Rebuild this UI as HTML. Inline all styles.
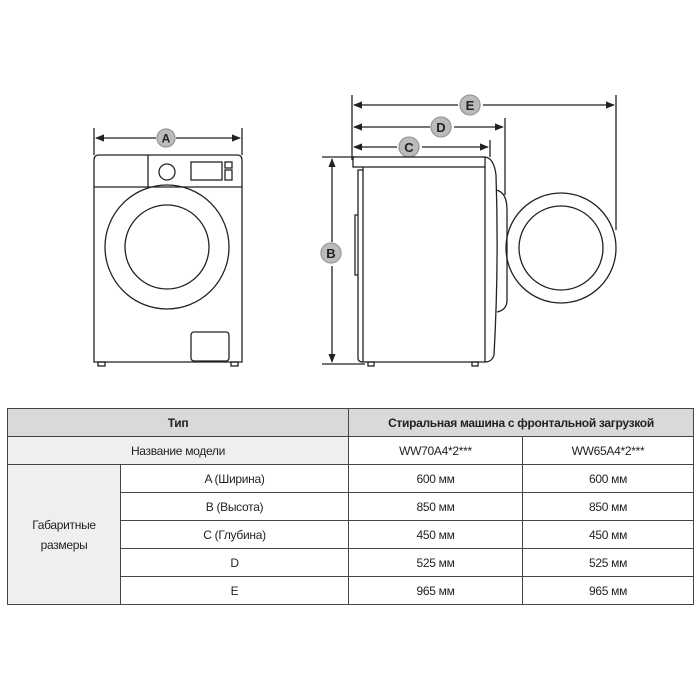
<!DOCTYPE html>
<html><head><meta charset="utf-8"><style>
body{margin:0;background:#fff;width:700px;height:700px;overflow:hidden;font-family:"Liberation Sans","DejaVu Sans",sans-serif}
svg{position:absolute;left:0;top:0}
table{position:absolute;left:7px;top:408px;border-collapse:collapse;font-size:12px;color:#222}
td{border:1px solid #444;height:27px;text-align:center;padding:0;font-family:"Liberation Sans",sans-serif;letter-spacing:-0.3px}
.g{background:#d9d9d9;font-weight:bold}
.l{background:#efefef}
</style></head><body>
<svg width="700" height="400" viewBox="0 0 700 400" fill="none" stroke="#222" stroke-width="1.3">
<defs><marker id="a" viewBox="0 0 10 10" refX="9" refY="5" markerWidth="7" markerHeight="7" orient="auto-start-reverse"><path d="M0,1L10,5L0,9z" fill="#222" stroke="none"/></marker></defs>
<line x1="94" y1="128" x2="94" y2="155"/><line x1="242" y1="128" x2="242" y2="155"/>
<line x1="96" y1="138" x2="156" y2="138" marker-start="url(#a)"/><line x1="176" y1="138" x2="240" y2="138" marker-end="url(#a)"/>
<circle cx="166" cy="138" r="9" fill="#bbb" stroke="#999"/><text x="166" y="142.5" font-size="12" font-weight="bold" text-anchor="middle" fill="#222" stroke="none">A</text>
<path d="M94,362V160Q94,155 99,155H237Q242,155 242,160V362Z"/>
<line x1="94" y1="187" x2="242" y2="187"/><line x1="148" y1="155" x2="148" y2="187"/>
<circle cx="167" cy="172" r="8"/><rect x="191" y="162" width="31" height="18"/>
<rect x="225" y="162" width="7" height="6"/><rect x="225" y="170" width="7" height="10"/>
<circle cx="167" cy="247" r="62"/><circle cx="167" cy="247" r="42"/>
<rect x="191" y="332" width="38" height="29" rx="3"/>
<rect x="98" y="362" width="7" height="4"/><rect x="231" y="362" width="7" height="4"/>
<line x1="352" y1="95" x2="352" y2="160"/>
<line x1="616" y1="95" x2="616" y2="230"/>
<line x1="505" y1="118" x2="505" y2="195"/>
<line x1="490" y1="140" x2="490" y2="157"/>
<line x1="354" y1="105" x2="458" y2="105" marker-start="url(#a)"/><line x1="483" y1="105" x2="614" y2="105" marker-end="url(#a)"/>
<circle cx="470" cy="105" r="10" fill="#bbb" stroke="#999"/><text x="470" y="110" font-size="13" font-weight="bold" text-anchor="middle" fill="#222" stroke="none">E</text>
<line x1="354" y1="127" x2="430" y2="127" marker-start="url(#a)"/><line x1="454" y1="127" x2="503" y2="127" marker-end="url(#a)"/>
<circle cx="441" cy="127" r="10" fill="#bbb" stroke="#999"/><text x="441" y="132" font-size="13" font-weight="bold" text-anchor="middle" fill="#222" stroke="none">D</text>
<line x1="354" y1="147" x2="397" y2="147" marker-start="url(#a)"/><line x1="422" y1="147" x2="488" y2="147" marker-end="url(#a)"/>
<circle cx="409" cy="147" r="10" fill="#bbb" stroke="#999"/><text x="409" y="152" font-size="13" font-weight="bold" text-anchor="middle" fill="#222" stroke="none">C</text>
<line x1="322" y1="157" x2="355" y2="157"/><line x1="322" y1="364" x2="365" y2="364"/>
<line x1="332" y1="159" x2="332" y2="242" marker-start="url(#a)"/><line x1="332" y1="266" x2="332" y2="362" marker-end="url(#a)"/>
<circle cx="331" cy="253" r="10" fill="#bbb" stroke="#999"/><text x="331" y="258" font-size="13" font-weight="bold" text-anchor="middle" fill="#222" stroke="none">B</text>
<rect x="353" y="157" width="132" height="10"/>
<path d="M363,167V362H485V167"/>
<path d="M485,157Q494,158 496,175Q499,265 494,355Q492,362 485,362"/>
<path d="M496,190Q507,192 507,210V300Q507,310 497,312"/>
<path d="M363,170H358V358Q358,362 363,362"/>
<path d="M358,215H355V275H358"/>
<circle cx="561" cy="248" r="55"/><circle cx="561" cy="248" r="42"/>
<rect x="368" y="362" width="6" height="4"/><rect x="472" y="362" width="6" height="4"/>
</svg>
<table>
<tr><td class="g" colspan="2" style="width:340px">Тип</td><td class="g" colspan="2" style="width:344px">Стиральная машина с фронтальной загрузкой</td></tr>
<tr><td class="l" colspan="2">Название модели</td><td style="width:173px">WW70A4*2***</td><td style="width:170px">WW65A4*2***</td></tr>
<tr><td class="l" rowspan="5" style="width:112px;line-height:20px">Габаритные<br>размеры</td><td style="width:227px">A (Ширина)</td><td>600 мм</td><td>600 мм</td></tr>
<tr><td>B (Высота)</td><td>850 мм</td><td>850 мм</td></tr>
<tr><td>C (Глубина)</td><td>450 мм</td><td>450 мм</td></tr>
<tr><td>D</td><td>525 мм</td><td>525 мм</td></tr>
<tr><td>E</td><td>965 мм</td><td>965 мм</td></tr>
</table>
</body></html>
